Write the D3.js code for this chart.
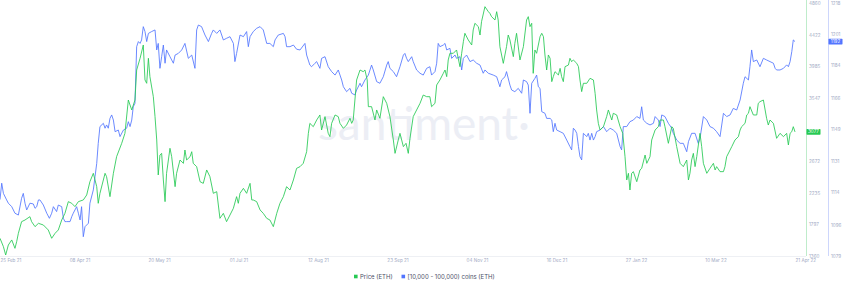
<!DOCTYPE html>
<html>
<head>
<meta charset="utf-8">
<script src="https://cdn.jsdelivr.net/npm/d3@7"></script>
<style>
  body { margin: 0; background: #fff; }
  svg { display: block; font-family: Inter, "Open Sans", sans-serif; }
</style>
</head>
<body>
<svg id="chart"></svg>
<script>
// days are counted from 25 Feb 2021
const startDate = new Date(Date.UTC(2021, 1, 25));
const spanDays = 420;

const tickDates = ["2021-02-25", "2021-04-08", "2021-05-20", "2021-07-01", "2021-08-12", "2021-09-23",
                   "2021-11-04", "2021-12-16", "2022-01-27", "2022-03-10", "2022-04-21"];

const priceTicks = [1360, 1797, 2235, 2672, 3110, 3547, 3985, 4422, 4860];
const coinTicks = [1079, 1096, 1114, 1131, 1149, 1166, 1184, 1201, 1218];

const priceLast = "3077";
const coinLast = "1192";

const seriesNames = ["Price (ETH)", "[10,000 - 100,000) coins (ETH)"];

// [day, price in USD]
const priceSeries = [[0,1605],[1.8,1489],[3,1374],[4.4,1512],[6.2,1582],[7.9,1466],[8.8,1558],[9.7,1674],[11.4,1835],[13.2,1858],[15.8,1904],[16.7,1835],[18.5,1766],[20.3,1812],[22.9,1789],[25.5,1720],[27.3,1605],[29.1,1674],[30.8,1720],[32.6,1858],[34.3,1950],[36.1,2112],[37.9,2089],[39.6,2043],[41.4,2112],[44,2135],[45.8,2204],[47.5,2388],[49.3,2504],[51.1,2319],[51.9,2089],[52.8,2227],[55.5,2504],[56.3,2458],[58.1,2181],[59.9,2504],[61.6,2734],[64.3,2919],[66,3057],[67.8,3518],[69.6,3380],[71.3,3518],[72.2,3933],[74,4095],[75.7,4279],[76.6,3795],[77.5,3749],[78.4,4095],[79.2,3841],[81,3564],[81.9,3288],[82.8,2965],[83.6,2481],[84.5,2757],[85.4,2780],[86.3,2412],[87.2,2112],[88,2504],[89.8,2850],[90.7,2734],[92.5,2319],[93.3,2504],[95.1,2688],[96.9,2642],[97.7,2826],[98.6,2688],[100.4,2734],[101.3,2803],[102.1,2642],[103.9,2596],[105.7,2388],[107.4,2365],[109.2,2550],[110.9,2458],[112.7,2227],[114.5,2250],[116.2,1881],[118,1950],[119.7,1835],[121.5,1927],[123.3,2020],[125,2181],[125.9,2089],[126.8,2227],[128.6,2296],[130.3,2227],[132.1,2365],[133,2135],[133.8,2135],[135.6,2112],[137.4,1997],[139.1,1950],[140.9,1881],[142.6,1858],[144.4,1766],[146.2,1950],[147.9,2089],[149.7,2181],[151.4,2319],[153.2,2273],[155,2412],[156.7,2573],[158.5,2596],[160.2,2642],[162,2803],[162.9,3057],[163.7,3195],[165.5,3149],[167.3,3241],[169,3311],[169.9,3103],[171.7,3288],[173.4,3057],[174.3,3011],[175.2,3195],[177,3311],[178.7,3288],[179.6,3195],[181.4,3126],[183.1,3172],[184.9,3265],[185.8,3195],[186.6,3241],[187.5,3518],[188.4,3795],[190.2,3933],[191.9,3910],[192.8,3933],[194,3795],[194.6,3426],[196.3,3426],[198.1,3241],[199,3380],[200.7,3265],[202.5,3564],[204.3,3472],[206,3288],[207.8,2965],[208.7,2780],[210.4,2965],[211.3,3057],[213.1,2873],[214.5,2919],[215.7,2780],[216.6,2988],[218.3,3288],[220.1,3380],[221.9,3472],[223.6,3587],[225.4,3564],[227.1,3564],[228,3426],[229.8,3472],[230.7,3726],[232.4,3795],[234.2,3887],[235.1,3933],[236,3841],[236.8,4072],[237.7,4164],[239.5,4164],[241.2,4210],[243,3979],[243.9,4164],[244.8,4325],[245.6,4441],[247.4,4348],[249.2,4279],[250,4487],[250.9,4579],[252.7,4533],[253.6,4417],[254.4,4602],[256.2,4809],[258,4740],[258.8,4717],[259.7,4671],[261.5,4625],[262.4,4740],[263.2,4625],[264.1,4256],[265.9,4025],[267.6,4256],[268.5,4417],[269.4,4348],[271.2,4118],[272,4302],[272.9,4441],[274.7,4072],[276.5,4256],[278.2,4625],[279.1,4671],[280,4533],[280.9,4579],[281.7,3887],[282.6,4210],[283.5,4164],[285.3,4394],[286.2,4441],[287.1,4394],[287.9,4141],[288.8,3933],[289.7,4141],[290.6,4095],[291.5,3772],[292.3,3841],[293.2,3910],[295,3864],[295.9,3956],[296.7,3841],[297.6,3772],[298.5,3979],[300.3,4002],[301.1,4095],[302,4048],[302.9,4072],[304.7,4025],[305.6,3979],[306.4,3795],[307.3,3634],[308.2,3749],[310,3749],[311.7,3818],[313.5,3795],[314.4,3610],[315.2,3380],[316.1,3195],[317,3103],[318.8,3149],[320.5,3288],[321.4,3380],[322.3,3311],[323.2,3241],[324,3334],[325.8,3311],[327.6,3149],[329,3057],[330.2,2734],[331.1,2412],[332,2504],[332.8,2273],[333.7,2504],[334.6,2527],[336.4,2388],[338.1,2550],[339,2573],[340.8,2757],[341.7,2642],[343.4,2734],[344.3,2965],[346.1,3103],[347.8,3149],[348.7,3241],[350.5,3241],[351.3,3149],[353.1,2919],[354.9,3149],[355.7,3126],[357.5,2873],[359.3,2642],[361,2596],[362.8,2688],[363.7,2412],[364.5,2504],[365.4,2688],[366.3,2780],[367.2,2596],[368.1,2734],[369.8,3057],[370.7,2873],[371.6,2642],[373.4,2504],[375.1,2573],[376.9,2642],[377.8,2550],[378.6,2596],[380.4,2527],[382.2,2527],[383,2596],[383.9,2734],[385.7,2826],[386.6,2873],[388.3,2965],[390.1,3011],[391,3103],[391.8,3149],[393.6,3195],[394.5,3311],[395.4,3334],[396.2,3426],[398,3311],[399.8,3311],[400.6,3472],[401.5,3495],[403.3,3518],[405,3265],[405.9,3172],[406.8,3241],[408.6,3195],[410.3,2988],[412.1,3057],[413.9,3011],[415.6,3057],[416.5,2896],[417.4,3057],[418.3,3080],[419.1,3149],[420,3077]];

// [day, balance held by 10k-100k ETH wallets]
const coinSeries = [[0,1110],[0.9,1119],[1.8,1113.4],[3.5,1109.8],[4.4,1108],[6.2,1106.1],[7.9,1102.5],[9.7,1101.5],[11.4,1110.7],[12.3,1113.4],[13.2,1108],[14.1,1104.3],[15.8,1108],[17.6,1107.6],[18.5,1105.2],[19.4,1106.1],[20.3,1109.8],[21.1,1109.8],[22.9,1107],[24.7,1102.5],[26.1,1099.7],[27.3,1102.5],[28.2,1106.1],[29.9,1103.4],[30.8,1107],[32.6,1106.1],[33.5,1099.7],[34.3,1097.9],[35.2,1097.9],[37,1097.9],[37.9,1100.6],[38.7,1102.5],[40.5,1106.1],[41.4,1102.5],[42.3,1098.8],[43.1,1106.1],[44,1089.6],[44.9,1095.1],[46.7,1097],[47.5,1108],[49.3,1115.3],[50.2,1122.6],[51.1,1129.9],[51.9,1140.9],[52.8,1150.1],[54.6,1151.9],[55.5,1149.2],[56.3,1151],[57.2,1149.2],[58.1,1154.6],[59,1156.5],[59.9,1153.7],[60.8,1147.3],[62.5,1148.2],[63.4,1144.6],[65.2,1148.2],[66.9,1149.2],[67.8,1152.8],[68.7,1150.1],[69.6,1153.7],[70.4,1161],[71.3,1162.9],[72.2,1194],[73.1,1196.8],[74,1195.8],[74.8,1197.7],[75.7,1205],[76.6,1202.3],[77.5,1196.8],[78.4,1201.3],[80.1,1202.3],[81.9,1203.2],[82.8,1192.2],[83.6,1195.8],[84.5,1182.1],[85.4,1188.5],[86.3,1194.9],[87.2,1184.9],[88,1192.2],[89.8,1188.5],[91.6,1184.9],[92.5,1189.4],[94.2,1190.3],[96,1192.2],[97.7,1195.8],[99.5,1187.6],[101.3,1189.4],[103,1182.1],[103.9,1203.2],[104.8,1205.9],[106.5,1205],[108.3,1200.4],[110.1,1196.8],[111.8,1201.3],[112.7,1203.2],[114.5,1201.3],[116.2,1203.2],[118,1197.7],[119.7,1198.6],[121.5,1199.5],[123.3,1195.8],[124.1,1185.8],[125,1190.3],[126.8,1200.4],[128.6,1199.5],[130.3,1202.3],[131.2,1194],[132.1,1199.5],[133.8,1202.3],[135.6,1204.1],[137.4,1205],[139.1,1203.2],[140.9,1195.8],[142.6,1195.8],[144.4,1194],[145.3,1197.7],[147,1200.4],[149.7,1201.3],[150.6,1199.5],[151.4,1194],[153.2,1194],[155,1194.9],[156.7,1192.6],[158.5,1192.2],[161.1,1195.8],[162,1189.4],[163.7,1183.9],[164.6,1183],[166.4,1184.9],[167.3,1185.8],[169,1182.1],[169.9,1187.6],[171.7,1188.5],[173.4,1183],[175.2,1180.3],[177,1178.4],[178.7,1181.2],[180.5,1175.7],[181.4,1172],[183.1,1169.3],[184.9,1171.1],[185.8,1168.4],[187.5,1167.5],[188.4,1170.2],[190.2,1173.9],[191,1172],[192.8,1175.7],[194.6,1178.4],[196.3,1183.9],[197.2,1181.2],[199,1174.8],[200.7,1173.9],[202.5,1177.5],[204.3,1183.9],[205.1,1185.8],[206,1182.1],[207.8,1180.3],[209.5,1177.5],[211.3,1183],[213.1,1189.4],[213.9,1190.3],[214.8,1187.6],[215.7,1185.8],[217.5,1188.5],[218.3,1185.8],[220.1,1181.2],[221.9,1179.4],[223.6,1178.4],[225.4,1182.1],[227.1,1183],[228,1178.4],[229.8,1180.3],[230.7,1184.9],[231.5,1195.8],[232.4,1194],[234.2,1194.9],[235.1,1195.8],[236,1192.2],[237.7,1193.1],[238.6,1187.6],[240.4,1189.4],[241.2,1187.6],[243,1188.5],[243.9,1181.2],[244.8,1187.6],[246.5,1189.4],[248.3,1185.8],[250,1186.7],[251.8,1184.9],[253.6,1183.9],[255.3,1179.4],[256.2,1181.2],[258,1179.4],[260.6,1178.4],[262.4,1177.5],[264.1,1172],[265,1175.7],[266.8,1177.5],[267.6,1180.3],[269.4,1172.9],[270.3,1170.2],[272,1169.3],[273.8,1171.1],[275.6,1168.4],[276.5,1175.7],[278.2,1174.8],[279.1,1172.9],[280,1157.4],[280.9,1173.9],[282.6,1176.6],[283.5,1178.4],[284.4,1172],[285.3,1171.1],[286.2,1158.3],[287.9,1157.4],[288.8,1154.6],[290.6,1154.6],[291.5,1153.7],[292.3,1147.3],[293.2,1151.9],[294.1,1148.2],[295.9,1147.3],[297.6,1146.4],[299.4,1142.7],[301.1,1139.1],[302,1137.3],[302.9,1149.2],[303.8,1148.2],[304.7,1146.4],[305.6,1139.1],[306.4,1133.6],[307.3,1131.8],[308.2,1146.4],[310,1144.6],[310.8,1146.4],[311.7,1142.7],[312.6,1146.4],[313.5,1142.7],[314.4,1144.6],[315.2,1147.3],[317,1148.2],[318.8,1150.1],[320.5,1147.3],[322.3,1149.2],[324,1148.2],[325.8,1146.4],[327.6,1139.1],[328.4,1137.3],[329.3,1150.1],[331.1,1150.1],[332.8,1152.8],[334.6,1153.7],[336.4,1155.6],[338.1,1154.6],[339,1161],[339.9,1153.7],[341.7,1151.9],[343.4,1151],[345.2,1151.9],[346.1,1155.6],[347.8,1153.7],[348.7,1150.1],[349.6,1156.5],[351.3,1155.6],[353.1,1151.9],[354.9,1149.2],[355.7,1146.4],[357.5,1142.7],[359.3,1140.9],[361,1140.9],[362.8,1136.3],[363.7,1141.8],[365.4,1146.4],[367.2,1146.4],[368.9,1140.9],[369.8,1143.6],[371.6,1155.6],[373.4,1153.7],[375.1,1150.1],[376.9,1149.2],[378.6,1147.3],[380.4,1144.6],[382.2,1157.4],[383.9,1155.6],[385.7,1156.5],[387.4,1160.1],[389.2,1159.2],[391,1164.7],[392.7,1173.9],[393.6,1177.5],[395.4,1175.7],[396.2,1183],[397.1,1192.2],[398,1185.8],[399.8,1186.7],[401.5,1183],[403.3,1187.6],[405,1186.7],[406.8,1185.8],[408.6,1184.9],[409.5,1182.1],[410.3,1181.2],[412.1,1181.2],[413.9,1182.1],[415.6,1184],[416.5,1183],[417.4,1185.8],[418.3,1191.3],[419.1,1197.7],[420,1196.8]];

const green = "#26c953";
const blue = "#5275ff";
const tickColor = "#9faac4";

function dayToDate(d) {
    return new Date(startDate.getTime() + d * 864e5);
}

function drawChart() {
    const width = 850, height = 288;
    const plotRight = 795, plotTop = 3, plotBottom = 256;
    const priceAxisX = 806, coinAxisX = 828;

    const svg = d3.select("#chart")
        .attr("width", width)
        .attr("height", height);

    const x = d3.scaleUtc()
        .domain([startDate, dayToDate(spanDays)])
        .range([0, plotRight]);
    const yPrice = d3.scaleLinear().domain([1360, 4860]).range([plotBottom, plotTop]);
    const yCoin = d3.scaleLinear().domain([1079, 1218]).range([plotBottom, plotTop]);

    // watermark
    svg.append("text")
        .attr("x", 318)
        .attr("y", 140)
        .attr("textLength", 212)
        .style("font-family", "Lato, sans-serif")
        .style("font-size", "46px")
        .style("fill", "#eceef5")
        .text("santiment·");

    // bottom baseline
    svg.append("line")
        .attr("x1", 0).attr("x2", priceAxisX)
        .attr("y1", plotBottom + 0.5).attr("y2", plotBottom + 0.5)
        .attr("stroke", "#eef0f4");

    // x axis labels
    const fmt = d3.utcFormat("%d %b %y");
    const gX = svg.append("g")
        .attr("transform", `translate(0,${plotBottom + 3})`)
        .call(d3.axisBottom(x)
            .tickValues(tickDates.map(s => new Date(s + "T00:00:00Z")))
            .tickFormat(fmt)
            .tickSize(0)
            .tickPadding(0));
    gX.select(".domain").remove();
    gX.selectAll("text")
        .style("font-size", "4.6px")
        .style("font-family", "Inter, sans-serif")
        .attr("fill", tickColor);
    gX.selectAll(".tick text")
        .filter((d, i) => i === 0 || i === tickDates.length - 1)
        .attr("text-anchor", "start");

    // lines
    const priceLine = d3.line()
        .x(d => x(dayToDate(d[0])))
        .y(d => yPrice(d[1]));
    const coinLine = d3.line()
        .x(d => x(dayToDate(d[0])))
        .y(d => yCoin(d[1]));

    svg.append("path")
        .datum(coinSeries)
        .attr("d", coinLine)
        .attr("fill", "none")
        .attr("stroke", blue)
        .attr("stroke-opacity", 0.85)
        .attr("stroke-width", 1);

    svg.append("path")
        .datum(priceSeries)
        .attr("d", priceLine)
        .attr("fill", "none")
        .attr("stroke", green)
        .attr("stroke-opacity", 0.85)
        .attr("stroke-width", 1);

    // right axes
    const priceY = yPrice(priceSeries[priceSeries.length - 1][1]);
    const coinY = yCoin(coinSeries[coinSeries.length - 1][1]);

    function rightAxis(xPos, scale, ticks, lineColor, boxY, boxLabel, boxColor) {
        svg.append("line")
            .attr("x1", xPos + 0.5).attr("x2", xPos + 0.5)
            .attr("y1", 0).attr("y2", plotBottom)
            .attr("stroke", lineColor)
            .attr("stroke-width", 1);

        const g = svg.append("g")
            .attr("transform", `translate(${xPos},0)`)
            .call(d3.axisRight(scale)
                .tickValues(ticks.filter(t => Math.abs(scale(t) - boxY) > 6))
                .tickFormat(d3.format("d"))
                .tickSize(0)
                .tickPadding(3));
        g.select(".domain").remove();
        g.selectAll("text")
            .style("font-size", "4.6px")
            .style("font-family", "Inter, sans-serif")
            .attr("fill", tickColor);

        svg.append("rect")
            .attr("x", xPos + 0.5)
            .attr("y", boxY - 2.8)
            .attr("width", 14)
            .attr("height", 5.6)
            .attr("rx", 0.6)
            .attr("fill", boxColor);
        svg.append("text")
            .attr("x", xPos + 7.5)
            .attr("y", boxY)
            .attr("dy", "0.35em")
            .attr("text-anchor", "middle")
            .style("font-size", "4.6px")
            .style("font-family", "Inter, sans-serif")
            .attr("fill", "#fff")
            .text(boxLabel);
    }

    rightAxis(priceAxisX, yPrice, priceTicks, "#bfeccb", priceY, priceLast, green);
    rightAxis(coinAxisX, yCoin, coinTicks, "#cdd6fc", coinY, coinLast, blue);

    // legend
    const legend = svg.append("g")
        .attr("transform", "translate(354,276.5)")
        .style("font-family", "Inter, sans-serif")
        .style("font-size", "6px");
    const colors = [green, blue];
    const offsets = [0, 47.5];
    seriesNames.forEach((name, i) => {
        legend.append("rect")
            .attr("x", offsets[i])
            .attr("y", -1.8)
            .attr("width", 3.6)
            .attr("height", 3.6)
            .attr("fill", colors[i]);
        legend.append("text")
            .attr("x", offsets[i] + 6)
            .attr("y", 0)
            .attr("dy", "0.35em")
            .attr("fill", "#4b5068")
            .text(name);
    });
}

drawChart();
</script>
</body>
</html>
